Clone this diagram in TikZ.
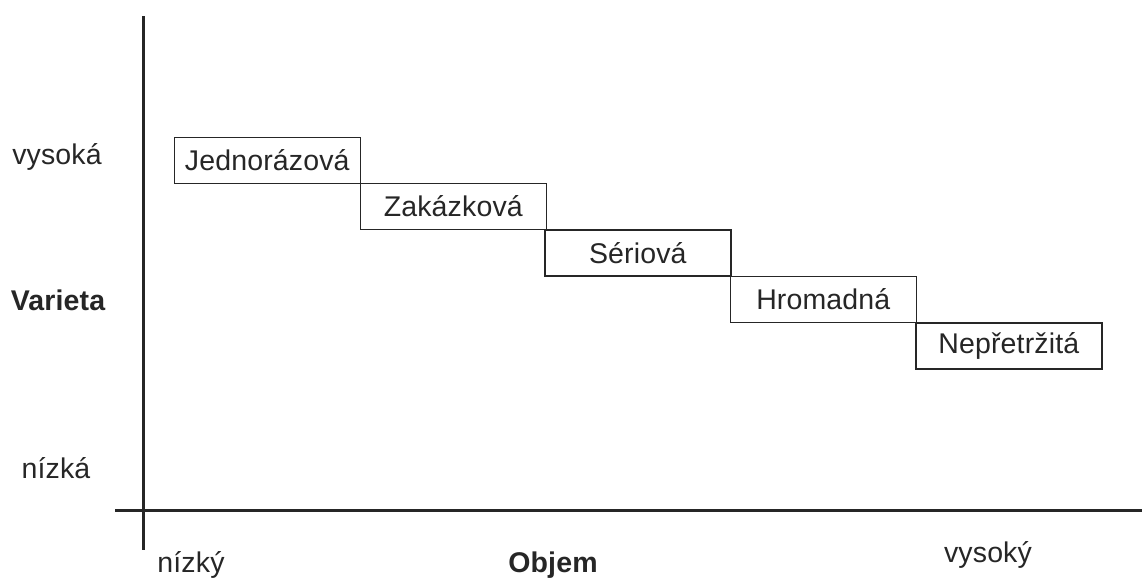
\documentclass[tikz,border=0pt]{standalone}
\usepackage{fontspec}
\setmainfont{Liberation Sans}[LetterSpace=0.5]
\begin{document}
\begin{tikzpicture}[x=1pt,y=-1pt,
  every node/.style={font=\fontsize{28.5}{32}\selectfont, text=black!85},
  stage/.style={draw=black!85, line width=1.6pt, minimum width=186pt, minimum height=46pt, inner sep=0pt, anchor=north west},
  axis/.style={draw=black!85, line width=3pt},
  lab/.style={inner sep=0pt},
  bold/.style={font=\fontsize{28.5}{32}\selectfont\bfseries}]
\useasboundingbox (0,0) rectangle (1142,582);
% axes
\coordinate (ytop) at (143,16);
\coordinate (ybot) at (143,550);
\coordinate (xl) at (115,510);
\coordinate (xr) at (1142,510);
\draw[axis] (ytop) -- (ybot);
\draw[axis] (xl) -- (xr);
% stages
\node[stage] (s1) at (173.5,136.5) {Jednorázová};
\node[stage] (s2) at (359.5,182.5) {Zakázková};
\node[stage] (s3) at (544,229) {Sériová};
\node[stage] (s4) at (729.5,275.5) {Hromadná};
\node[stage] (s5) at (915,322) {Nepřetržitá};
% axis labels
\node[lab] (vh) at (57,157) {vysoká};
\node[lab,bold] (var) at (58,300) {Varieta};
\node[lab] (vl) at (56,468) {nízká};
\node[lab] (ol) at (191,565) {nízký};
\node[lab,bold] (obj) at (553,565) {Objem};
\node[lab] (oh) at (988,555) {vysoký};
\end{tikzpicture}
\end{document}
